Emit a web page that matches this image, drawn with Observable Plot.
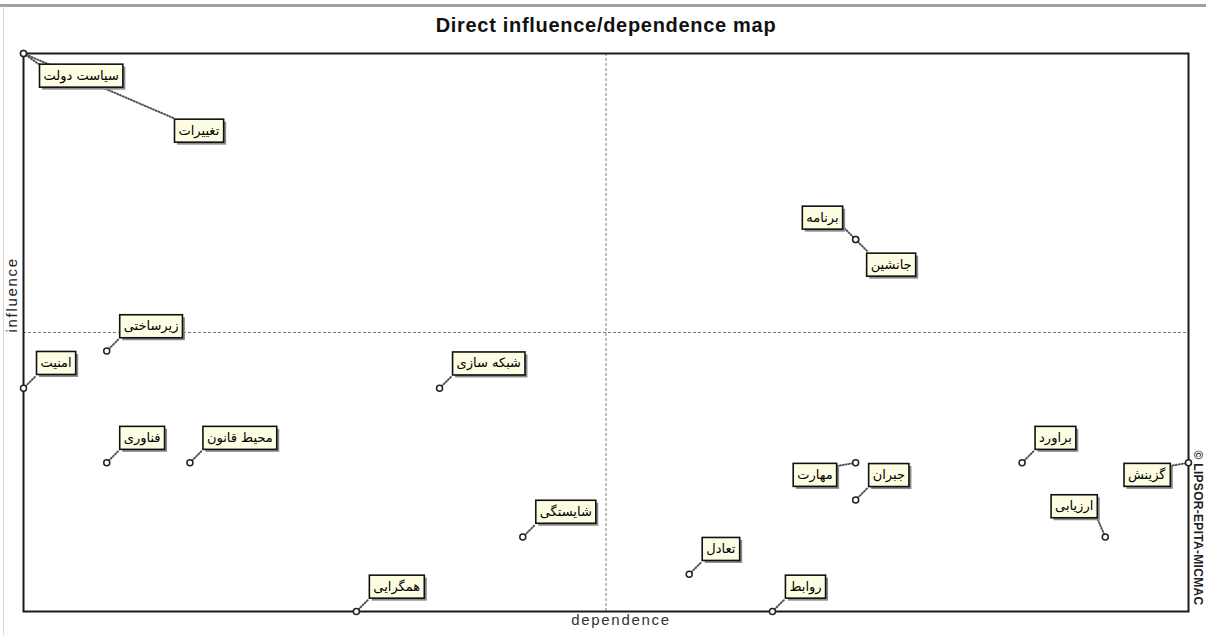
<!DOCTYPE html>
<html><head><meta charset="utf-8">
<script src="https://cdn.jsdelivr.net/npm/d3@7"></script>
<script src="https://cdn.jsdelivr.net/npm/@observablehq/plot@0.6"></script>
<style>
body{margin:0;background:#fff;width:1206px;height:635px;overflow:hidden;position:relative;font-family:"Liberation Sans",Arial,sans-serif}
#chart{position:absolute;left:0;top:0}
#topline{position:absolute;left:0;top:4px;width:1206px;height:3px;background:#a0a0a0}
#leftline{position:absolute;left:3px;top:6px;width:1px;height:629px;background:#d8d8d8}
</style></head><body>
<div id="topline"></div><div id="leftline"></div>
<div id="chart"></div>
<script>
// ---- data ----
const variables = ["سیاست دولت","تغییرات","برنامه","جانشین","زیرساختی","امنیت","فناوری","محیط قانون","شبکه سازی","شایستگی","همگرایی","تعادل","روابط","مهارت","جبران","براورد","گزینش","ارزیابی"];
const dependence = [0,0,10,10,1,0,1,2,5,6,4,8,9,10,10,12,14,13];
const influence  = [15,15,10,10,7,6,4,4,6,2,0,1,0,4,3,4,4,2];
const placement  = ["corner","far","nw","se","ne","ne","ne","ne","ne","ne","ne","ne","ne","w","ne","ne","w","nnw"];
const titleText = "Direct influence/dependence map";
const xLabel = "dependence";
const yLabel = "influence";
const credit = "© LIPSOR-EPITA-MICMAC";

const data = variables.map((name, i) => ({name, dep: dependence[i], inf: influence[i], place: placement[i]}));

// label placement styles (pixel offsets)
const place = {
  ne:     {rotate: 45,    length: 18,  dx: 17,  dy: -25, textAnchor: "start"},
  nw:     {rotate: -45,   length: 16,  dx: -17, dy: -22, textAnchor: "end"},
  se:     {rotate: 135,   length: 17,  dx: 15,  dy: 25,  textAnchor: "start"},
  w:      {rotate: -100,  length: 19,  dx: -23, dy: 12,  textAnchor: "end"},
  nnw:    {rotate: -23,   length: 20,  dx: -12, dy: -31, textAnchor: "end"},
  corner: {rotate: 124.6, length: 19,  dx: 20,  dy: 22,  textAnchor: "start"},
  far:    {rotate: 113.3, length: 164, dx: 155, dy: 77,  textAnchor: "start"}
};
const line = {draw(ctx, l) { ctx.moveTo(0, 0); ctx.lineTo(0, -l); }};

const connectors = Object.entries(place).map(([k, p]) =>
  Plot.vector(data.filter(d => d.place === k), {
    x: "dep", y: "inf", rotate: p.rotate, length: p.length, anchor: "start",
    shape: line, stroke: "#555", strokeWidth: 2, strokeDasharray: "1,2"
  }));
const labels = Object.entries(place).map(([k, p]) =>
  Plot.text(data.filter(d => d.place === k), {
    x: "dep", y: "inf", text: "name", dx: p.dx, dy: p.dy, textAnchor: p.textAnchor,
    fontSize: 13, fontFamily: "DejaVu Sans", fill: "#000", ariaLabel: () => "label"
  }));

const svg = Plot.plot({
  width: 1206, height: 635,
  marginLeft: 23, marginRight: 18, marginTop: 53, marginBottom: 24,
  x: {domain: [0, 14], axis: null},
  y: {domain: [0, 15], axis: null},
  style: {background: "transparent", fontFamily: "Liberation Sans, Arial, sans-serif"},
  marks: [
    Plot.ruleX([7], {stroke: "#7a7a7a", strokeWidth: 1, strokeDasharray: "3,2"}),
    Plot.ruleY([7.5], {stroke: "#7a7a7a", strokeWidth: 1, strokeDasharray: "3,2"}),
    Plot.frame({stroke: "#1a1a1a", strokeWidth: 2}),
    ...connectors,
    Plot.dot(data, {x: "dep", y: "inf", r: 3, stroke: "#222", fill: "white", strokeWidth: 1.5}),
    ...labels,
    Plot.text([titleText], {frameAnchor: "top", dy: -31, fontSize: 20, fontWeight: "bold", fill: "#111", ariaLabel: () => "title"}),
    Plot.text([yLabel], {frameAnchor: "left", dx: -11, rotate: -90, textAnchor: "start", fontSize: 15, fill: "#222", ariaLabel: () => "axislab"}),
    Plot.text([xLabel], {frameAnchor: "bottom", dx: 15, dy: 13, fontSize: 15, fill: "#333", ariaLabel: () => "axislab"}),
    Plot.text([credit], {frameAnchor: "right", dx: 9, dy: 118, rotate: 90, textAnchor: "start", fontSize: 12, fontWeight: "bold", fill: "#222", ariaLabel: () => "credit"})
  ]
});
document.getElementById("chart").appendChild(svg);

function textsOf(name) {
  const out = [];
  svg.querySelectorAll('[aria-label="' + name + '"]').forEach(el => {
    if (el.tagName.toLowerCase() === "text") out.push(el);
    else el.querySelectorAll("text").forEach(t => out.push(t));
  });
  return out;
}
textsOf("axislab").forEach(t => t.setAttribute("letter-spacing", "1.7"));
textsOf("title").forEach(t => { t.setAttribute("letter-spacing", "0.7"); t.setAttribute("dy", "-0.25em"); });
textsOf("credit").forEach(t => t.setAttribute("letter-spacing", "0.3"));

const NS = "http://www.w3.org/2000/svg";
textsOf("label").forEach(t => {
  const b = t.getBBox();
  const cy = b.y + b.height / 2;
  const tr = t.getAttribute("transform");
  const mk = (off, fill, stroke) => {
    const r = document.createElementNS(NS, "rect");
    r.setAttribute("x", b.x - 4 + off);
    r.setAttribute("y", cy - 11.5 + off);
    r.setAttribute("width", b.width + 8);
    r.setAttribute("height", 23);
    r.setAttribute("fill", fill);
    if (stroke) { r.setAttribute("stroke", stroke); r.setAttribute("stroke-width", 1.6); }
    if (tr) r.setAttribute("transform", tr);
    t.parentNode.insertBefore(r, t);
  };
  mk(2.5, "#8c8c8c", null);
  mk(0, "#fdfde3", "#111");
});
</script>
</body></html>
